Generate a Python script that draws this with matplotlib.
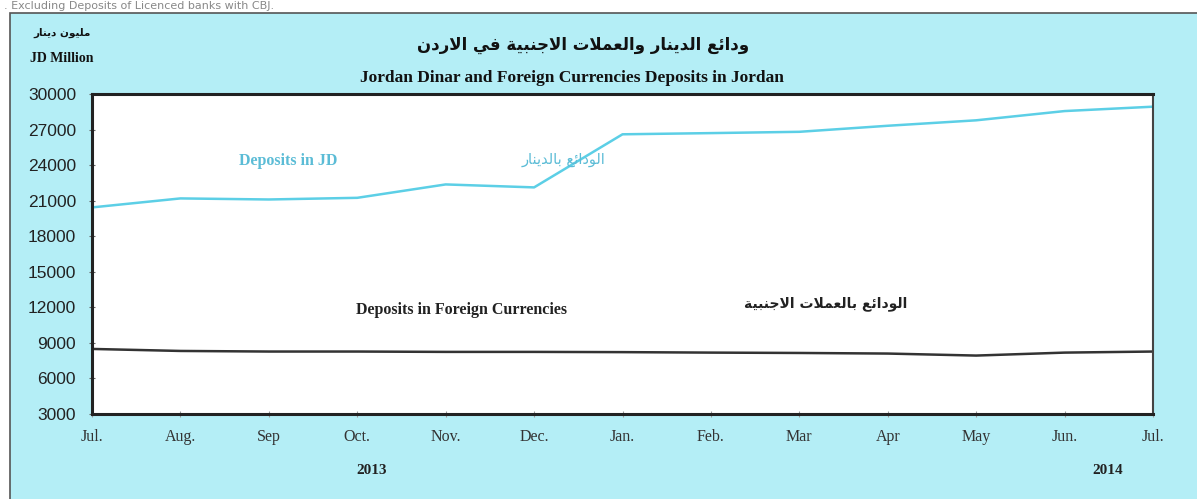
import matplotlib
matplotlib.use("Agg")
import matplotlib.pyplot as plt
from matplotlib.patches import Rectangle
import numpy as np

# data
months = ["Jul.", "Aug.", "Sep", "Oct.", "Nov.", "Dec.", "Jan.",
          "Feb.", "Mar", "Apr", "May", "Jun.", "Jul."]
deposits_jd = [20430, 21190, 21100, 21240, 22370, 22120, 26600,
               26700, 26810, 27320, 27780, 28560, 28930]
deposits_fc = [8490, 8320, 8270, 8270, 8240, 8240, 8220,
               8180, 8150, 8100, 7930, 8180, 8270]
y_ticks = [3000, 6000, 9000, 12000, 15000, 18000, 21000, 24000, 27000, 30000]

# simple arabic shaping (presentation forms, visual order)
FORMS = {
    'ا': ('\uFE8D', '\uFE8E'),
    'ب': ('\uFE8F', '\uFE90', '\uFE91', '\uFE92'),
    'ة': ('\uFE93', '\uFE94'),
    'ت': ('\uFE95', '\uFE96', '\uFE97', '\uFE98'),
    'ج': ('\uFE9D', '\uFE9E', '\uFE9F', '\uFEA0'),
    'د': ('\uFEA9', '\uFEAA'),
    'ر': ('\uFEAD', '\uFEAE'),
    'ع': ('\uFEC9', '\uFECA', '\uFECB', '\uFECC'),
    'ف': ('\uFED1', '\uFED2', '\uFED3', '\uFED4'),
    'ل': ('\uFEDD', '\uFEDE', '\uFEDF', '\uFEE0'),
    'م': ('\uFEE1', '\uFEE2', '\uFEE3', '\uFEE4'),
    'ن': ('\uFEE5', '\uFEE6', '\uFEE7', '\uFEE8'),
    'و': ('\uFEED', '\uFEEE'),
    'ي': ('\uFEF1', '\uFEF2', '\uFEF3', '\uFEF4'),
    'ئ': ('\uFE89', '\uFE8A', '\uFE8B', '\uFE8C'),
}


def dual(c):
    return c in FORMS and len(FORMS[c]) == 4


def shape(text):
    out = []
    prev = None
    i = 0
    while i < len(text):
        c = text[i]
        if c not in FORMS:
            out.append(c)
            prev = None
            i += 1
            continue
        link_prev = prev is not None and dual(prev)
        if c == 'ل' and i + 1 < len(text) and text[i + 1] == 'ا':
            out.append('\uFEFC' if link_prev else '\uFEFB')
            prev = 'ا'
            i += 2
            continue
        nxt = text[i + 1] if i + 1 < len(text) else None
        link_next = dual(c) and nxt in FORMS
        f = FORMS[c]
        if link_prev and link_next:
            g = f[3]
        elif link_prev:
            g = f[1]
        elif link_next:
            g = f[2]
        else:
            g = f[0]
        out.append(g)
        prev = c
        i += 1
    return ''.join(reversed(out))


serif = ['Liberation Serif', 'DejaVu Serif']
arab = ['DejaVu Sans']

fig = plt.figure(figsize=(11.97, 4.99), dpi=100)
fig.patch.set_facecolor('white')

# cyan panel (behind the axes)
fig.patches.append(Rectangle((10 / 1197, -0.05), 1.1, 1.05 - 13 / 499,
                             transform=fig.transFigure, facecolor='#b4eef6',
                             edgecolor='#555555', linewidth=1.2, zorder=-5))

fig.text(0.003, 1 - 6 / 499, ". Excluding Deposits of Licenced banks with CBJ.",
         fontsize=8, color='#888888', va='center', ha='left')

ax = fig.add_axes([92 / 1197, 1 - 414 / 499, (1153 - 92) / 1197, (414 - 94) / 499])
ax.set_facecolor('white')
x = np.arange(len(months))
ax.plot(x, deposits_jd, color='#5ccfe6', linewidth=1.8)
ax.plot(x, deposits_fc, color='#333333', linewidth=1.8)

ax.set_xlim(0, len(months) - 1)
ax.set_ylim(3000, 30000)
ax.set_yticks(y_ticks)
ax.set_yticklabels([str(v) for v in y_ticks], fontsize=12.5,
                   family='Liberation Sans', color='#222222')
ax.set_xticks(x)
ax.set_xticklabels(months, fontsize=11.5, family=serif, color='#333333')
ax.tick_params(axis='y', direction='inout', length=5, color='#666666', pad=9)
ax.tick_params(axis='x', direction='inout', length=5, color='#999999', pad=8)
for side in ['left', 'top', 'bottom']:
    ax.spines[side].set_linewidth(2.2)
    ax.spines[side].set_color('#222222')
ax.spines['right'].set_linewidth(1.5)
ax.spines['right'].set_color('#444444')

# titles and labels
fig.text(583 / 1197, 1 - 45 / 499, shape("ودائع الدينار والعملات الاجنبية في الاردن"),
         fontsize=12, family=arab, weight='bold', ha='center', va='center',
         color='#111111')
fig.text(572 / 1197, 1 - 78 / 499, "Jordan Dinar and Foreign Currencies Deposits in Jordan",
         fontsize=12.5, family=serif, weight='bold', ha='center', va='center',
         color='#111111')
fig.text(62 / 1197, 1 - 33 / 499, shape("مليون دينار"), fontsize=7.5,
         family=arab, weight='bold', ha='center', va='center', color='#111111')
fig.text(62 / 1197, 1 - 58 / 499, "JD Million", fontsize=10, family=serif,
         weight='bold', ha='center', va='center', color='#111111')

ax.text(2.22, 24350, "Deposits in JD", fontsize=11.5, family=serif,
        weight='bold', color='#5bbcd6', ha='center', va='center')
ax.text(5.33, 24500, shape("الودائع بالدينار"), fontsize=10.5, family=arab,
        color='#5bbcd6', ha='center', va='center')
ax.text(4.18, 11750, "Deposits in Foreign Currencies", fontsize=11.5,
        family=serif, weight='bold', color='#222222', ha='center', va='center')
ax.text(8.3, 12300, shape("الودائع بالعملات الاجنبية"), fontsize=10,
        family=arab, weight='bold', color='#222222', ha='center', va='center')

fig.text(372 / 1197, 1 - 470 / 499, "2013", fontsize=11, family=serif,
         weight='bold', ha='center', va='center', color='#222222')
fig.text(1108 / 1197, 1 - 470 / 499, "2014", fontsize=11, family=serif,
         weight='bold', ha='center', va='center', color='#222222')

fig.savefig("out.png", dpi=100)
